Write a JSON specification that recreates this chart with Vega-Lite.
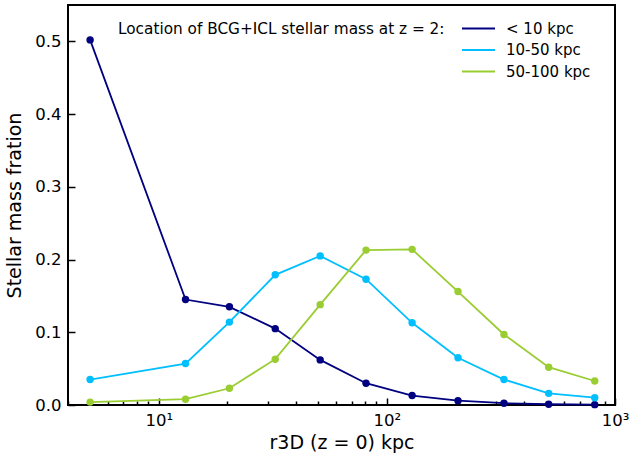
{
  "$schema": "https://vega.github.io/schema/vega-lite/v6.json",
  "width": 547,
  "height": 400,
  "autosize": {"type": "none"},
  "padding": {"left": 68, "top": 5, "right": 14, "bottom": 51},
  "config": {
    "font": "DejaVu Sans",
    "view": {"stroke": "black", "strokeWidth": 2},
    "axis": {"domain": false, "grid": false, "tickColor": "black", "labelColor": "black", "titleColor": "black", "titleFontWeight": "normal", "labelFontSize": 16.5, "titleFontSize": 19}
  },
  "data": {
    "values": [
      {"r": 5.0, "frac": 0.502, "loc": "< 10 kpc"},
      {"r": 13.1, "frac": 0.145, "loc": "< 10 kpc"},
      {"r": 20.4, "frac": 0.135, "loc": "< 10 kpc"},
      {"r": 32.4, "frac": 0.105, "loc": "< 10 kpc"},
      {"r": 51, "frac": 0.062, "loc": "< 10 kpc"},
      {"r": 81, "frac": 0.030, "loc": "< 10 kpc"},
      {"r": 129, "frac": 0.013, "loc": "< 10 kpc"},
      {"r": 205, "frac": 0.006, "loc": "< 10 kpc"},
      {"r": 326, "frac": 0.0025, "loc": "< 10 kpc"},
      {"r": 512, "frac": 0.001, "loc": "< 10 kpc"},
      {"r": 815, "frac": 0.0005, "loc": "< 10 kpc"},
      {"r": 5.0, "frac": 0.035, "loc": "10-50 kpc"},
      {"r": 13.1, "frac": 0.057, "loc": "10-50 kpc"},
      {"r": 20.4, "frac": 0.114, "loc": "10-50 kpc"},
      {"r": 32.4, "frac": 0.179, "loc": "10-50 kpc"},
      {"r": 51, "frac": 0.205, "loc": "10-50 kpc"},
      {"r": 81, "frac": 0.173, "loc": "10-50 kpc"},
      {"r": 129, "frac": 0.113, "loc": "10-50 kpc"},
      {"r": 205, "frac": 0.065, "loc": "10-50 kpc"},
      {"r": 326, "frac": 0.035, "loc": "10-50 kpc"},
      {"r": 512, "frac": 0.016, "loc": "10-50 kpc"},
      {"r": 815, "frac": 0.010, "loc": "10-50 kpc"},
      {"r": 5.0, "frac": 0.004, "loc": "50-100 kpc"},
      {"r": 13.1, "frac": 0.008, "loc": "50-100 kpc"},
      {"r": 20.4, "frac": 0.023, "loc": "50-100 kpc"},
      {"r": 32.4, "frac": 0.063, "loc": "50-100 kpc"},
      {"r": 51, "frac": 0.138, "loc": "50-100 kpc"},
      {"r": 81, "frac": 0.213, "loc": "50-100 kpc"},
      {"r": 129, "frac": 0.214, "loc": "50-100 kpc"},
      {"r": 205, "frac": 0.156, "loc": "50-100 kpc"},
      {"r": 326, "frac": 0.097, "loc": "50-100 kpc"},
      {"r": 512, "frac": 0.052, "loc": "50-100 kpc"},
      {"r": 815, "frac": 0.033, "loc": "50-100 kpc"}
    ]
  },
  "encoding": {
    "x": {
      "field": "r", "type": "quantitative",
      "scale": {"type": "log", "domain": [4, 1000], "nice": false},
      "axis": {
        "title": "r3D (z = 0) kpc",
        "values": [4, 5, 6, 7, 8, 9, 10, 20, 30, 40, 50, 60, 70, 80, 90, 100, 200, 300, 400, 500, 600, 700, 800, 900, 1000],
        "labelExpr": "datum.value == 10 ? '10¹' : datum.value == 100 ? '10²' : datum.value == 1000 ? '10³' : ''",
        "tickSize": {"condition": {"test": "datum.value == 10 || datum.value == 100 || datum.value == 1000", "value": -7}, "value": -4},
        "tickWidth": 1.5,
        "labelPadding": 14,
        "labelFlush": false,
        "labelOverlap": false,
        "titlePadding": 2
      }
    },
    "y": {
      "field": "frac", "type": "quantitative",
      "scale": {"domain": [0, 0.55], "nice": false},
      "axis": {
        "title": "Stellar mass fration",
        "values": [0, 0.1, 0.2, 0.3, 0.4, 0.5],
        "format": ".1f",
        "tickSize": -7,
        "tickWidth": 1.5,
        "labelPadding": 14,
        "titlePadding": 10
      }
    },
    "color": {
      "field": "loc", "type": "nominal",
      "scale": {"domain": ["< 10 kpc", "10-50 kpc", "50-100 kpc"], "range": ["#000080", "#00BFFF", "#9ACD32"]}
    }
  },
  "layer": [
    {
      "mark": {"type": "line", "strokeWidth": 1.8},
      "encoding": {
        "color": {
          "field": "loc", "type": "nominal",
          "scale": {"domain": ["< 10 kpc", "10-50 kpc", "50-100 kpc"], "range": ["#000080", "#00BFFF", "#9ACD32"]},
          "legend": {
            "title": "Location of BCG+ICL stellar mass at z = 2:",
            "titleOrient": "left",
            "titleAnchor": "start",
            "titleBaseline": "line-top",
            "titleLineHeight": 18,
            "titleFontWeight": "normal",
            "titleFontSize": 15.3,
            "titleColor": "black",
            "titleLimit": 500,
            "titlePadding": 26,
            "labelFontSize": 15,
            "labelColor": "black",
            "labelOffset": 20,
            "symbolType": "M-3,0H3",
            "symbolSize": 121,
            "symbolStrokeWidth": 2,
            "rowPadding": 5.5,
            "orient": "none",
            "legendX": 50,
            "legendY": 16,
            "padding": 0
          }
        }
      }
    },
    {
      "mark": {"type": "point", "filled": true, "opacity": 1, "size": 55},
      "encoding": {
        "color": {"field": "loc", "type": "nominal", "legend": null}
      }
    }
  ]
}
